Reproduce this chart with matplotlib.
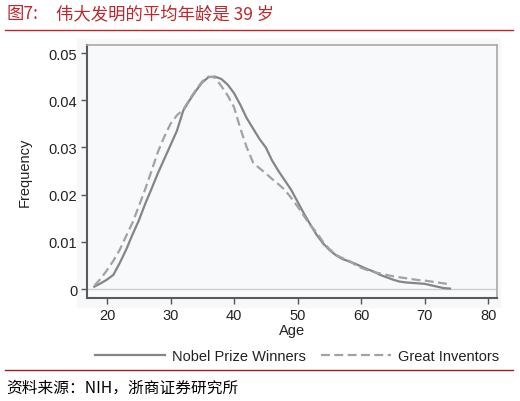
import matplotlib.pyplot as plt
from matplotlib.patches import Rectangle
from matplotlib.lines import Line2D

plt.rcParams['font.family'] = ['Liberation Sans', 'Noto Sans CJK SC']

# ages (years) and frequency density
ages = list(range(18, 75))
nobel = [0.0005, 0.0012, 0.0020, 0.0030, 0.0055, 0.0083, 0.0115, 0.0145,
         0.0180, 0.0212, 0.0245, 0.0275, 0.0305, 0.0335, 0.0378, 0.0400,
         0.0420, 0.0438, 0.0449, 0.0450, 0.0445, 0.0433, 0.0415, 0.0390,
         0.0362, 0.0340, 0.0318, 0.0300, 0.0272, 0.0250, 0.0230, 0.0210,
         0.0185, 0.0160, 0.0137, 0.0115, 0.0097, 0.0083, 0.0072, 0.0064,
         0.0059, 0.0054, 0.0048, 0.0042, 0.0037, 0.0030, 0.0025, 0.0020,
         0.0016, 0.0014, 0.0013, 0.0012, 0.0011, 0.0008, 0.0005, 0.0002,
         0.0001]
inventors = [0.0007, 0.0022, 0.0040, 0.0060, 0.0083, 0.0112, 0.0140, 0.0175,
             0.0211, 0.0250, 0.0290, 0.0322, 0.0350, 0.0368, 0.0380, 0.0402,
             0.0422, 0.0440, 0.0450, 0.0448, 0.0430, 0.0410, 0.0385, 0.0340,
             0.0300, 0.0268, 0.0256, 0.0245, 0.0233, 0.0222, 0.0210, 0.0193,
             0.0175, 0.0155, 0.0135, 0.0120, 0.0100, 0.0085, 0.0073, 0.0066,
             0.0061, 0.0052, 0.0045, 0.0040, 0.0036, 0.0033, 0.0030, 0.0027,
             0.0025, 0.0023, 0.0021, 0.0019, 0.0018, 0.0016, 0.0014, 0.0012,
             0.0010]
xticks = [20, 30, 40, 50, 60, 70, 80]
yticks = [0, 0.01, 0.02, 0.03, 0.04, 0.05]
ytick_labels = ['0', '0.01', '0.02', '0.03', '0.04', '0.05']

W, H = 520, 402
fig = plt.figure(figsize=(W / 100, H / 100), dpi=100)
red = '#c0272d'
cjk = ['Noto Sans CJK SC', 'DejaVu Sans']

# title + rules
fig.text(6 / W, 1 - 14 / H, '图7:', color=red,
         fontsize=12.5, family=cjk, va='center', ha='left')
fig.text(56 / W, 1 - 14 / H, '伟大发明的平均年龄是 39 岁', color=red,
         fontsize=12.5, family=cjk, va='center', ha='left')
fig.add_artist(Line2D([5 / W, 513 / W], [1 - 31 / H] * 2, color=red, lw=1))
fig.add_artist(Line2D([5 / W, 513 / W], [1 - 371 / H] * 2, color='#a01c20', lw=1))
fig.text(6 / W, 1 - 388 / H, '资料来源：NIH，浙商证券研究所', color='black',
         fontsize=11.3, family=cjk, va='center', ha='left')

# light panel behind the chart
fig.add_artist(Rectangle((77 / W, 1 - 308 / H), 423 / W, 268 / H,
                         transform=fig.transFigure, color='#f7f8fa', zorder=0))

ax = fig.add_axes([87 / W, 1 - 299 / H, 410 / W, 253 / H])
ax.set_facecolor('#f8f9fb')
ax.plot(ages, nobel, color='#858585', lw=1.6, label='Nobel Prize Winners')
ax.plot(ages, inventors, color='#a2a2a2', lw=1.6, dashes=(4, 2),
        label='Great Inventors')
ax.axhline(0, color='#cfcfcf', lw=1, zorder=0)

ax.set_xlim(16.85, 81.4)
ax.set_ylim(-0.0019, 0.0517)
ax.set_xticks(xticks)
ax.set_yticks(yticks)
ax.set_yticklabels(ytick_labels)
ax.tick_params(direction='out', length=4, width=1, color='#555555',
               labelsize=10.5, labelcolor='#222222', pad=3)
for s in ['left', 'bottom']:
    ax.spines[s].set_color('#5a5a5a')
    ax.spines[s].set_linewidth(1.5)
for s in ['top', 'right']:
    ax.spines[s].set_color('#a8a8a8')
    ax.spines[s].set_linewidth(1.2)
ax.set_xlabel('Age', fontsize=10.5, color='#222222', labelpad=1)
ax.set_ylabel('Frequency', fontsize=10.5, color='#222222', labelpad=12)

fig.legend(loc='center', bbox_to_anchor=(297 / W, 1 - 357 / H), ncol=2,
           frameon=False, fontsize=10.5, handlelength=4.8, columnspacing=1.0,
           handletextpad=0.5, labelcolor='#222222')

fig.savefig('out.png', dpi=100)
